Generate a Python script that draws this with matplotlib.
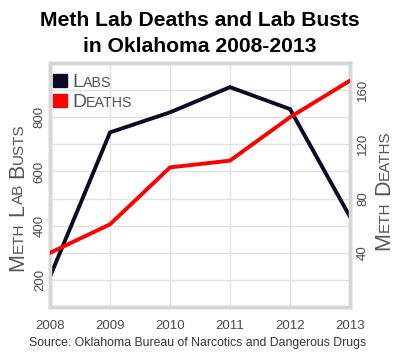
import matplotlib
matplotlib.use('Agg')
import matplotlib.pyplot as plt
from matplotlib.ticker import MultipleLocator, FixedLocator
from matplotlib.transforms import IdentityTransform
from matplotlib.patches import Rectangle

plt.rcParams['font.family'] = ['Liberation Sans', 'DejaVu Sans']

years = [2008, 2009, 2010, 2011, 2012, 2013]
labs = [212, 744, 818, 911, 830, 433]
deaths = [40, 61, 103, 108, 140, 167]

labs_ticks = [200, 400, 600, 800]
deaths_ticks = [40, 80, 120, 160]

LAB_COLOR = '#0a0a26'
DEATH_COLOR = '#ff0000'
GRID = '#e2e2e2'
FRAME = '#d6d6d6'
TEXT = '#555555'
TICK = '#4a4a4a'


def smallcaps_pieces(words, big, small):
    parts = []
    for i, w in enumerate(words):
        parts.append((w[0], big))
        if len(w) > 1:
            parts.append((w[1:].upper(), small))
        if i < len(words) - 1:
            parts.append((None, big))   # gap
    return parts


def draw_smallcaps(fig, x, y, words, big, small, rotation=0, color=TEXT, center=True):
    # text in small caps, placed piece by piece in pixel coords
    r = fig.canvas.get_renderer()
    parts = smallcaps_pieces(words, big, small)

    def advance(s, size):
        if s is None:
            return size * 0.28 * fig.dpi / 72
        t = fig.text(0, 0, s, transform=IdentityTransform(), fontsize=size)
        w = t.get_window_extent(r).width
        t.remove()
        return w

    total = sum(advance(s, sz) for s, sz in parts)
    pos = (y if rotation == 90 else x) - (total / 2 if center else 0)
    for s, sz in parts:
        if s is not None:
            px, py = (x, pos) if rotation == 90 else (pos, y)
            fig.text(px, py, s, transform=IdentityTransform(), fontsize=sz,
                     rotation=rotation, rotation_mode='anchor',
                     ha='left', va='baseline', color=color)
        pos += advance(s, sz)


fig = plt.figure(figsize=(4, 3.6), dpi=100)
ax = fig.add_axes([0.125, 0.147, 0.75, 0.678])
ax2 = ax.twinx()

ax.plot(years, labs, color=LAB_COLOR, lw=2.8, solid_joinstyle='miter', zorder=3)
ax2.plot(years, deaths, color=DEATH_COLOR, lw=2.8, solid_joinstyle='miter', zorder=3)

ax.set_xlim(2008, 2013)
ax.set_ylim(100, 1000)
ax2.set_ylim(0, 180)

ax.set_xticks(years)
ax.yaxis.set_major_locator(FixedLocator(labs_ticks))
ax.yaxis.set_minor_locator(MultipleLocator(100))
ax2.yaxis.set_major_locator(FixedLocator(deaths_ticks))

ax.grid(True, which='both', color=GRID, lw=1)
ax.set_axisbelow(True)

ax.tick_params(axis='both', which='both', length=0, colors=TICK, labelsize=9.5)
ax.tick_params(axis='x', pad=9)
ax.tick_params(axis='y', pad=3)
ax2.tick_params(axis='y', length=0, colors=TICK, labelsize=9.5, pad=5)
for lbl in ax.get_yticklabels():
    lbl.set_rotation(90)
    lbl.set_va('center')
for lbl in ax2.get_yticklabels():
    lbl.set_rotation(90)
    lbl.set_va('center')

for a in (ax, ax2):
    for sp in a.spines.values():
        sp.set_color(FRAME)
        sp.set_linewidth(2.5)

fig.text(0.5, 0.943, 'Meth Lab Deaths and Lab Busts', ha='center', va='center',
         fontsize=15.2, fontweight='bold')
fig.text(0.5, 0.870, 'in Oklahoma 2008-2013', ha='center', va='center',
         fontsize=15.2, fontweight='bold')
fig.text(0.495, 0.047, 'Source: Oklahoma Bureau of Narcotics and Dangerous Drugs',
         ha='center', va='center', fontsize=8.8, color='#333333')

# axis labels in small caps
draw_smallcaps(fig, 23, 360 - 197, ['Meth', 'Lab', 'Busts'], 15.5, 11, rotation=90)
draw_smallcaps(fig, 389, 360 - 190, ['Meth', 'Deaths'], 15.5, 11, rotation=90)

# legend
ax.add_patch(Rectangle((53, 360 - 87), 14, 13, transform=IdentityTransform(),
                       color=LAB_COLOR, zorder=5))
ax.add_patch(Rectangle((53, 360 - 107), 14, 13, transform=IdentityTransform(),
                       color=DEATH_COLOR, zorder=5))
draw_smallcaps(fig, 72, 360 - 87, ['Labs'], 14, 10.3, center=False)
draw_smallcaps(fig, 72, 360 - 107, ['Deaths'], 14, 10.3, center=False)

fig.savefig('out.png', dpi=100)
